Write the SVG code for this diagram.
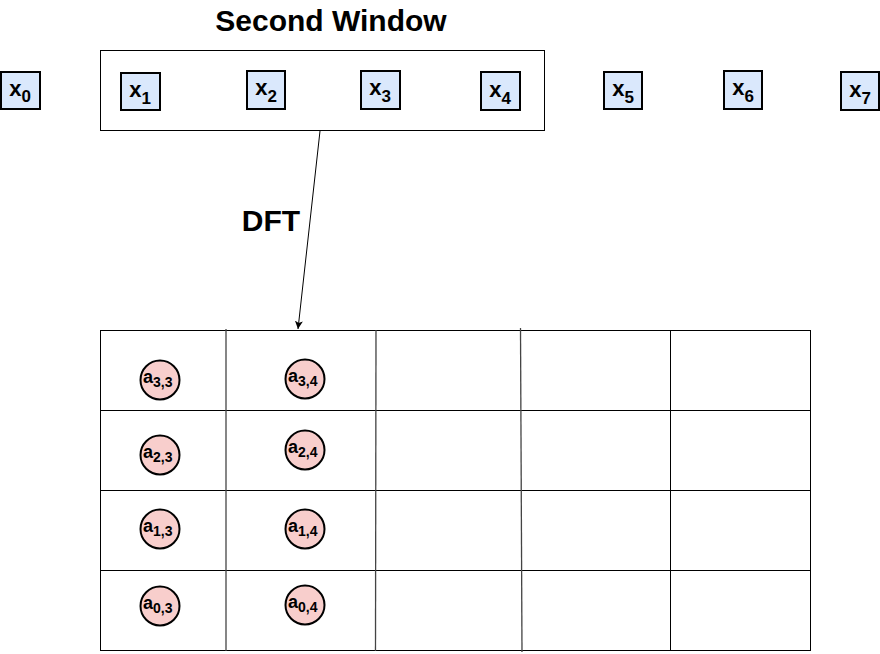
<svg xmlns="http://www.w3.org/2000/svg" width="880" height="654" viewBox="0 0 880 654">
<style>
.t{font-family:"Liberation Sans",Arial,sans-serif;fill:#000}
.title{font-size:30px;font-weight:bold}
.xb{fill:#dae8fc;stroke:#000;stroke-width:2}
.xt{font-size:22px;font-weight:bold}
.xs{font-size:17px;font-weight:bold}
.ln{stroke:#000;stroke-width:1;fill:none}
.gl{stroke:#000;stroke-width:1;fill:none}
.gv{stroke:#444;stroke-width:1.3;fill:none}
.c{fill:#f8cecc;stroke:#000;stroke-width:2}
.at{font-size:18px;font-weight:bold}
.as{font-size:14px;font-weight:bold}
</style>
<defs>
<marker id="ah" markerWidth="10" markerHeight="10" refX="8" refY="4" orient="auto" markerUnits="userSpaceOnUse">
<path d="M0,0 L8,4 L0,8 L2,4 Z" fill="#000"/>
</marker>
</defs>
<rect width="880" height="654" fill="#fff"/>
<text class="t title" x="331" y="31" text-anchor="middle">Second Window</text>
<text class="t title" x="271" y="231" text-anchor="middle">DFT</text>
<g id="window"><rect x="100.5" y="50.5" width="444" height="80" class="ln"/></g>
<g id="connectors">
<line x1="320" y1="131" x2="298" y2="329" class="ln" marker-end="url(#ah)"/>
</g>
<g id="x0"><rect x="1" y="72" width="39" height="37" class="xb"/><text class="t xt" x="20" y="96" text-anchor="middle">x<tspan class="xs" dy="6">0</tspan></text></g>
<g id="x1"><rect x="121" y="73" width="39" height="37" class="xb"/><text class="t xt" x="140" y="97" text-anchor="middle">x<tspan class="xs" dy="7">1</tspan></text></g>
<g id="x2"><rect x="247" y="71" width="38" height="38" class="xb"/><text class="t xt" x="266" y="95" text-anchor="middle">x<tspan class="xs" dy="7">2</tspan></text></g>
<g id="x3"><rect x="361" y="71" width="39" height="38" class="xb"/><text class="t xt" x="380" y="95" text-anchor="middle">x<tspan class="xs" dy="7">3</tspan></text></g>
<g id="x4"><rect x="481" y="72" width="39" height="38" class="xb"/><text class="t xt" x="500" y="97" text-anchor="middle">x<tspan class="xs" dy="7">4</tspan></text></g>
<g id="x5"><rect x="604" y="72" width="38" height="37" class="xb"/><text class="t xt" x="623" y="96" text-anchor="middle">x<tspan class="xs" dy="7">5</tspan></text></g>
<g id="x6"><rect x="724" y="71" width="38" height="38" class="xb"/><text class="t xt" x="743" y="95" text-anchor="middle">x<tspan class="xs" dy="7">6</tspan></text></g>
<g id="x7"><rect x="841" y="72" width="38" height="38" class="xb"/><text class="t xt" x="860" y="97" text-anchor="middle">x<tspan class="xs" dy="7">7</tspan></text></g>
<g id="grid">
<line x1="100" y1="330.5" x2="810" y2="330.5" class="gl"/>
<line x1="100" y1="410.5" x2="810" y2="410.5" class="gl"/>
<line x1="100" y1="490.5" x2="810" y2="490.5" class="gl"/>
<line x1="100" y1="570.5" x2="810" y2="570.5" class="gl"/>
<line x1="100" y1="650.5" x2="810" y2="650.5" class="gl"/>
<line x1="100.5" y1="330" x2="100.5" y2="651" class="gl"/>
<line x1="810.5" y1="330" x2="810.5" y2="651" class="gl"/>
<line x1="226" y1="329" x2="226" y2="651" class="gv"/>
<line x1="376" y1="330" x2="375.5" y2="651" class="gv"/>
<line x1="520.5" y1="328" x2="522" y2="652" class="gv"/>
<line x1="670.5" y1="330" x2="670.5" y2="651" class="gl"/>
</g>
<g id="a33"><circle cx="160" cy="380" r="19.5" class="c"/><text class="t at" x="143" y="383">a<tspan class="as" dy="4">3,3</tspan></text></g>
<g id="a34"><circle cx="305" cy="379" r="19.5" class="c"/><text class="t at" x="288" y="382">a<tspan class="as" dy="4">3,4</tspan></text></g>
<g id="a23"><circle cx="160" cy="455" r="19.5" class="c"/><text class="t at" x="143" y="458">a<tspan class="as" dy="4">2,3</tspan></text></g>
<g id="a24"><circle cx="305" cy="450" r="19.5" class="c"/><text class="t at" x="288" y="453">a<tspan class="as" dy="4">2,4</tspan></text></g>
<g id="a13"><circle cx="160" cy="529" r="19.5" class="c"/><text class="t at" x="143" y="532">a<tspan class="as" dy="4">1,3</tspan></text></g>
<g id="a14"><circle cx="305" cy="529" r="19.5" class="c"/><text class="t at" x="288" y="532">a<tspan class="as" dy="4">1,4</tspan></text></g>
<g id="a03"><circle cx="160" cy="606" r="19.5" class="c"/><text class="t at" x="143" y="609">a<tspan class="as" dy="4">0,3</tspan></text></g>
<g id="a04"><circle cx="305" cy="605" r="19.5" class="c"/><text class="t at" x="288" y="608">a<tspan class="as" dy="4">0,4</tspan></text></g>
</svg>
